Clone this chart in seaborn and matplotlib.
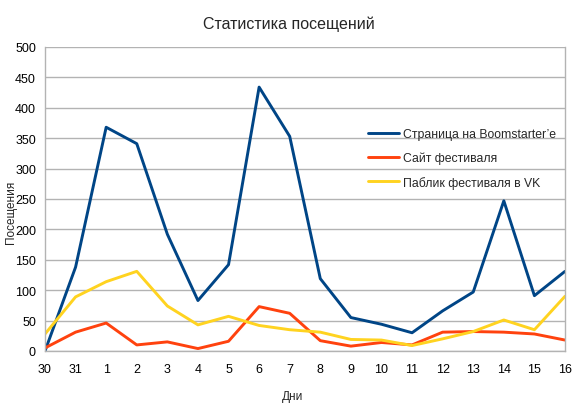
import matplotlib
matplotlib.use("Agg")
import matplotlib.pyplot as plt
import seaborn as sns
import pandas as pd

# Данные: дни и посещения по каждому источнику
days = ["30", "31", "1", "2", "3", "4", "5", "6", "7", "8",
        "9", "10", "11", "12", "13", "14", "15", "16"]
boomstarter = [0, 138, 368, 341, 192, 83, 142, 434, 353, 119,
               55, 44, 30, 66, 97, 247, 91, 131]
site = [5, 31, 46, 10, 15, 4, 16, 73, 62, 17,
        8, 14, 10, 31, 32, 31, 28, 18]
vk = [28, 89, 114, 131, 74, 43, 57, 42, 35, 31,
      19, 18, 9, 20, 32, 51, 35, 90]

series_names = ["Страница на Boomstarter’e", "Сайт фестиваля", "Паблик фестиваля в VK"]
colors = ["#004586", "#ff420e", "#ffd320"]

rows = []
for name, vals in zip(series_names, [boomstarter, site, vk]):
    for d, v in zip(days, vals):
        rows.append({"day": d, "value": v, "series": name})
df = pd.DataFrame(rows)

sns.set_style("white")
plt.rcParams['font.family'] = ['Liberation Sans', 'DejaVu Sans']

fig = plt.figure(figsize=(5.77, 4.10), dpi=100)
ax = fig.add_axes([45 / 577, 1 - 352 / 410, 520 / 577, 304 / 410])

sns.lineplot(data=df, x="day", y="value", hue="series", palette=colors,
             sort=False, linewidth=2.1, ax=ax, legend=True)

grid_c = "#b3b3b3"
ax.set_ylim(0, 500)
ax.set_xlim(0, len(days) - 1)
ax.set_yticks(range(0, 501, 50))
ax.yaxis.grid(True, color=grid_c, linewidth=1)
ax.set_axisbelow(True)
for s in ["left", "right", "bottom"]:
    ax.spines[s].set_color(grid_c)
    ax.spines[s].set_linewidth(1)
ax.spines["top"].set_visible(False)
ax.tick_params(axis="both", direction="out", width=1, color=grid_c,
               labelsize=9, labelcolor="#000000")
ax.tick_params(axis="x", length=4, pad=4.5)
ax.tick_params(axis="y", length=5, pad=1.5)

# подписи осей
ax.set_xlabel("Дни", fontsize=8.5)
ax.xaxis.set_label_coords((293 - 45) / 520, -(391 - 352) / 304)
ax.set_ylabel("Посещения", fontsize=8.5)
ax.yaxis.set_label_coords(-(45 - 17) / 520, (352 - 212) / 304)
fig.suptitle("Статистика посещений", fontsize=11.5, y=1 - 17 / 410, va="top")

leg = ax.legend(loc="upper left", bbox_to_anchor=(368 / 577, 1 - 129 / 410),
                bbox_transform=fig.transFigure, frameon=False, fontsize=8.8,
                handlelength=2.5, handletextpad=0.35, labelspacing=0.95,
                borderpad=0, borderaxespad=0)
for line in leg.get_lines():
    line.set_linewidth(2.1)

fig.savefig("out.png", dpi=100)
